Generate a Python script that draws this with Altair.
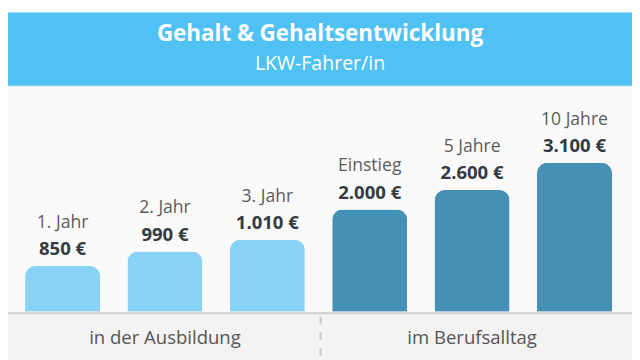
import altair as alt
import pandas as pd

# --- data ---
categories = ["1. Jahr", "2. Jahr", "3. Jahr", "Einstieg", "5 Jahre", "10 Jahre"]
salaries = [850, 990, 1010, 2000, 2600, 3100]
salary_labels = ["850 €", "990 €", "1.010 €", "2.000 €", "2.600 €", "3.100 €"]
bar_heights = [47, 62, 74, 105, 125, 153]  # drawn (stylised) bar heights
groups = ["in der Ausbildung"] * 3 + ["im Berufsalltag"] * 3
group_names = ["in der Ausbildung", "im Berufsalltag"]
group_centers = ["2. Jahr", "5 Jahre"]
title_text = "Gehalt & Gehaltsentwicklung"
subtitle_text = "LKW-Fahrer/in"

df = pd.DataFrame({
    "cat": categories,
    "salary": salaries,
    "label": salary_labels,
    "h": bar_heights,
    "group": groups,
})
gdf = pd.DataFrame({"group": group_names, "cat": group_centers})
one = pd.DataFrame({"k": [0]})

FONT = "Open Sans"
W, H = 640, 360

xscale = alt.Scale(domain=categories, range=[3.5, 633.5],
                   paddingInner=28 / 105, paddingOuter=14 / 105)
yscale = alt.Scale(domain=[-53, 307], range=[H, 0])
X = alt.X("cat:N", scale=xscale, axis=None, sort=categories)
Y = alt.Y("h:Q", scale=yscale, axis=None)

base1 = alt.Chart(one)

header = base1.mark_rect(color="#4fc1f5").encode(
    x=alt.value(0), x2=alt.value(W), y=alt.value(0), y2=alt.value(75))
header_line = base1.mark_rule(color="#92d8f8", strokeWidth=1).encode(
    x=alt.value(0), x2=alt.value(W), y=alt.value(75.5))
plot_bg = base1.mark_rect(color="#fafafa").encode(
    x=alt.value(0), x2=alt.value(W), y=alt.value(76), y2=alt.value(308))
bottom_bg = base1.mark_rect(color="#f3f3f3").encode(
    x=alt.value(0), x2=alt.value(W), y=alt.value(308), y2=alt.value(H))
bottom_line = base1.mark_rule(color="#cdcdcd", strokeWidth=2).encode(
    x=alt.value(0), x2=alt.value(W), y=alt.value(308.5))
sep = base1.mark_rule(color="#c6c6c6", strokeWidth=2, strokeDash=[8, 8]).encode(
    x=alt.value(320.5), y=alt.value(312), y2=alt.value(H))

title = base1.mark_text(text=title_text, font=FONT, fontSize=23, fontWeight="bold",
                        color="#ffffff", baseline="middle").encode(
    x=alt.value(320), y=alt.value(22))
subtitle = base1.mark_text(text=subtitle_text, font=FONT, fontSize=20,
                           color="#ffffff", baseline="middle").encode(
    x=alt.value(320), y=alt.value(53))

bars = alt.Chart(df).mark_bar(cornerRadiusTopLeft=11, cornerRadiusTopRight=11).encode(
    x=X, y=Y, y2=alt.value(308),
    color=alt.Color("group:N", scale=alt.Scale(domain=group_names,
                                                range=["#88d2f6", "#4591b6"]), legend=None),
)

val_text = alt.Chart(df).mark_text(font=FONT, fontSize=19, fontWeight="bold",
                                   color="#343a40", baseline="middle", dy=-17).encode(
    x=X, y=Y, text="label:N")
cat_text = alt.Chart(df).mark_text(font=FONT, fontSize=18, color="#5c5c5c",
                                   baseline="middle", dy=-44).encode(
    x=X, y=Y, text="cat:N")

group_text = alt.Chart(gdf).mark_text(font=FONT, fontSize=19, color="#555555",
                                      baseline="middle").encode(
    x=alt.X("cat:N", scale=xscale, axis=None, sort=categories),
    y=alt.value(334), text="group:N")

chart = alt.layer(header, header_line, plot_bg, bottom_bg, bottom_line, sep,
                  title, subtitle, bars, val_text, cat_text, group_text).properties(
    width=W, height=H, padding=0, autosize="none", background="#fafafa"
).configure_view(strokeWidth=0)

chart.save("out.html", embed_options={"renderer": "svg", "actions": False})
